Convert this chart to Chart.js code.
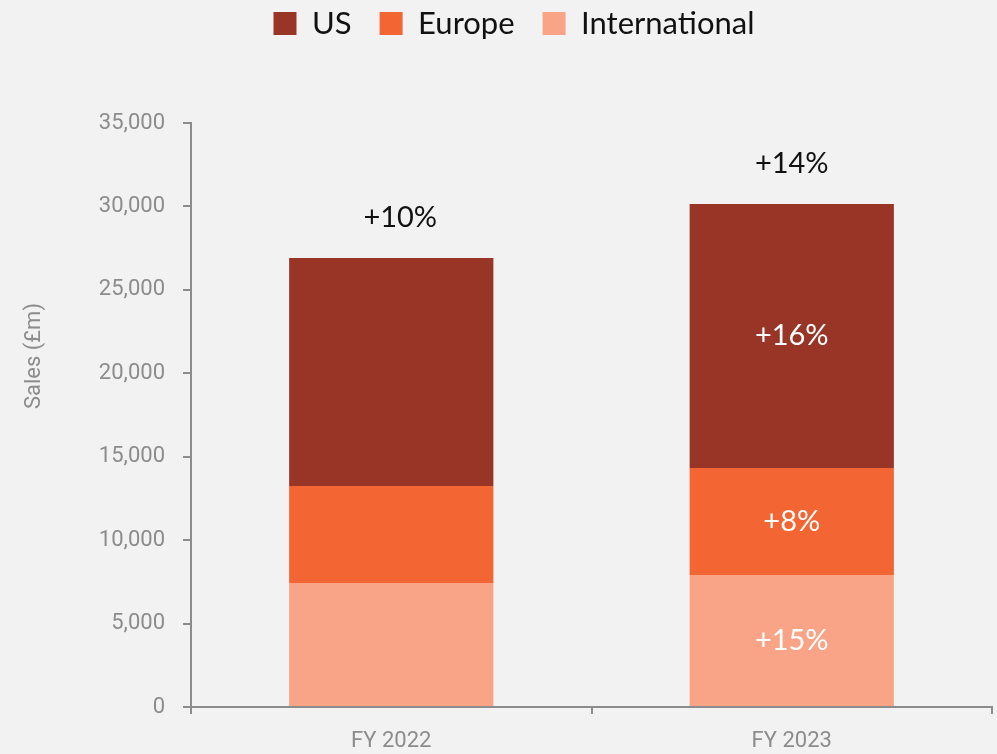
<!DOCTYPE html>
<html>
<head>
<meta charset="utf-8">
<script src="https://cdn.jsdelivr.net/npm/chart.js@4.4.1/dist/chart.umd.min.js"></script>
<style>
  html, body { margin: 0; padding: 0; background: #f2f2f2; }
  #wrap { width: 997px; height: 754px; position: relative; }
</style>
</head>
<body>
<div id="wrap"><canvas id="c"></canvas></div>
<script>
// ---- data ----
const categories = ['FY 2022', 'FY 2023'];
const usSales = [13670, 15820];
const europeSales = [5810, 6410];
const internationalSales = [7430, 7910];
const usGrowth = ['', '+16%'];
const europeGrowth = ['', '+8%'];
const internationalGrowth = ['', '+15%'];
const totalGrowth = ['+10%', '+14%'];
const yTicks = { min: 0, max: 35000, step: 5000 };
const yTitle = 'Sales (£m)';

const GRAY = '#8c8c8c';
const LABEL_FONT = 'Lato';
const AXIS_FONT = 'Roboto';

const bgPlugin = {
  id: 'bg',
  beforeDraw(chart) {
    const ctx = chart.ctx;
    ctx.save();
    ctx.fillStyle = '#f2f2f2';
    ctx.fillRect(0, 0, chart.width, chart.height);
    ctx.restore();
  }
};

const legendFitPlugin = {
  id: 'legendFit',
  beforeInit(chart) {
    const lg = chart.legend;
    const orig = lg.fit;
    lg.fit = function () {
      orig.call(this);
      this.height = 123;
    };
  },
  afterLayout(chart) {
    const lg = chart.legend;
    lg.top -= 20;
    lg.bottom -= 20;
    lg.left += 18;
    lg.right += 18;
  }
};

const totalOffsetX = [9, 0];

const labelPlugin = {
  id: 'growthLabels',
  afterDatasetsDraw(chart) {
    const ctx = chart.ctx;
    ctx.save();
    ctx.textAlign = 'center';
    ctx.textBaseline = 'middle';
    ctx.font = '29px ' + LABEL_FONT;
    chart.data.datasets.forEach((ds, di) => {
      const meta = chart.getDatasetMeta(di);
      meta.data.forEach((el, i) => {
        const t = ds.growth[i];
        if (!t) return;
        ctx.fillStyle = '#ffffff';
        ctx.fillText(t, el.x, (el.y + el.base) / 2);
      });
    });
    const topMeta = chart.getDatasetMeta(chart.data.datasets.length - 1);
    topMeta.data.forEach((el, i) => {
      ctx.fillStyle = '#111111';
      ctx.fillText(totalGrowth[i], el.x + totalOffsetX[i], el.y - 40);
    });
    // y axis title
    ctx.font = '22px ' + AXIS_FONT;
    ctx.fillStyle = GRAY;
    ctx.translate(34, 356);
    ctx.rotate(-Math.PI / 2);
    ctx.fillText(yTitle, 0, 0);
    ctx.restore();
  }
};

new Chart(document.getElementById('c'), {
  type: 'bar',
  data: {
    labels: categories,
    datasets: [
      { label: 'International', data: internationalSales, growth: internationalGrowth, backgroundColor: '#f9a486' },
      { label: 'Europe', data: europeSales, growth: europeGrowth, backgroundColor: '#f36633' },
      { label: 'US', data: usSales, growth: usGrowth, backgroundColor: '#983527' }
    ]
  },
  options: {
    responsive: true,
    maintainAspectRatio: false,
    animation: false,
    locale: 'en-US',
    datasets: { bar: { barPercentage: 0.51, categoryPercentage: 1.0, borderWidth: 0 } },
    layout: { padding: { top: 0, right: 5, bottom: 0, left: 0 } },
    plugins: {
      tooltip: { enabled: false },
      legend: {
        position: 'top',
        reverse: true,
        labels: {
          boxWidth: 23,
          boxHeight: 23,
          padding: 28,
          color: '#111111',
          font: { family: LABEL_FONT, size: 31 }
        }
      }
    },
    scales: {
      x: {
        stacked: true,
        offset: true,
        border: { display: true, color: GRAY, width: 2 },
        grid: { display: true, drawOnChartArea: false, drawTicks: true, tickLength: 7, color: GRAY, lineWidth: 2, offset: true },
        ticks: { color: GRAY, padding: 14, font: { family: AXIS_FONT, size: 22 } },
        afterFit(scale) { scale.height = 47; }
      },
      y: {
        stacked: true,
        min: yTicks.min,
        max: yTicks.max,
        border: { display: true, color: GRAY, width: 2 },
        grid: { display: true, drawOnChartArea: false, drawTicks: true, tickLength: 8, color: GRAY, lineWidth: 2 },
        ticks: { stepSize: yTicks.step, color: GRAY, padding: 18, font: { family: AXIS_FONT, size: 22 } },
        afterFit(scale) { scale.width = 191; }
      }
    }
  },
  plugins: [bgPlugin, legendFitPlugin, labelPlugin]
});
</script>
</body>
</html>
